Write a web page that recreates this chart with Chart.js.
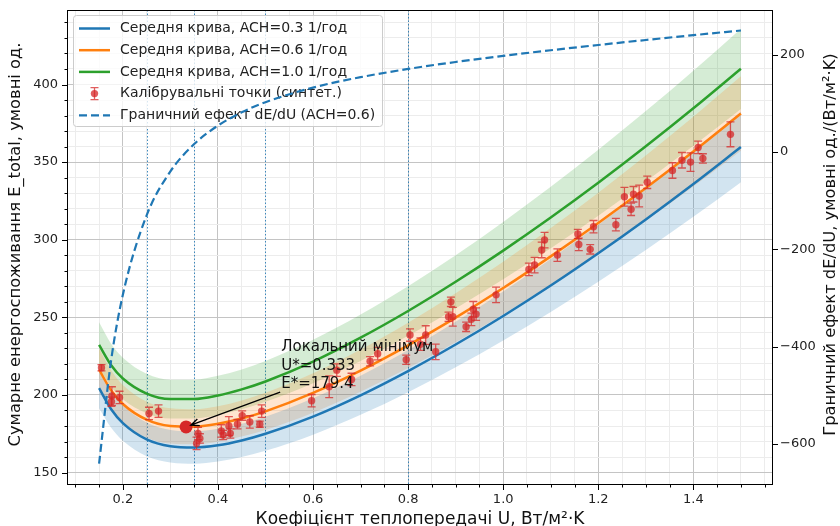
<!DOCTYPE html>
<html>
<head>
<meta charset="utf-8">
<script src="https://cdn.jsdelivr.net/npm/chart.js@4.4.0/dist/chart.umd.min.js"></script>
<style>
 html, body { margin: 0; padding: 0; background: #fff; }
 #wrap { width: 840px; height: 526px; }
</style>
</head>
<body>
<div id="wrap"><canvas id="chart" width="840" height="526"></canvas></div>
<script>
// U grid of the mean curves
const uGrid = [0.15, 0.175, 0.2, 0.25, 0.3, 0.35, 0.4, 0.45, 0.5, 0.6, 0.7, 0.8, 0.9, 1.0, 1.1, 1.2, 1.3, 1.4, 1.5];

// mean curves, ACH = 0.3 / 0.6 / 1.0
const meanAch03 = [204.4, 191.0, 181.9, 171.4, 167.0, 166.2, 167.6, 170.7, 175.0, 186.1, 199.8, 215.4, 232.5, 250.9, 270.5, 291.3, 313.1, 335.9, 359.7];
const meanAch06 = [216.3, 203.1, 194.2, 184.1, 180.0, 179.5, 181.4, 184.8, 189.4, 201.3, 215.7, 232.0, 249.8, 268.9, 289.3, 310.8, 333.3, 356.8, 381.3];
const meanAch10 = [232.2, 219.3, 210.6, 200.9, 197.4, 197.4, 199.7, 203.6, 208.7, 221.5, 236.9, 254.1, 272.9, 293.0, 314.3, 336.7, 360.2, 384.7, 410.2];

// uncertainty bands
const lowAch03 = [191.5, 179.0, 170.5, 160.6, 156.5, 155.7, 157.1, 160.0, 164.0, 174.4, 187.2, 201.8, 217.8, 235.1, 253.5, 273.0, 293.4, 314.8, 337.1];
const highAch03 = [217.2, 203.1, 193.4, 182.2, 177.5, 176.6, 178.2, 181.5, 186.0, 197.9, 212.4, 228.9, 247.1, 266.7, 287.6, 309.7, 332.8, 357.1, 382.4];
const lowAch06 = [202.7, 190.3, 182.0, 172.5, 168.7, 168.2, 169.9, 173.2, 177.5, 188.6, 202.1, 217.3, 234.0, 252.0, 271.1, 291.2, 312.3, 334.3, 357.3];
const highAch06 = [229.9, 215.9, 206.4, 195.7, 191.4, 190.8, 192.8, 196.5, 201.4, 214.0, 229.3, 246.6, 265.5, 285.9, 307.5, 330.3, 354.3, 379.3, 405.4];
const lowAch10 = [217.6, 205.5, 197.3, 188.3, 184.9, 184.9, 187.1, 190.8, 195.6, 207.6, 221.9, 238.1, 255.7, 274.5, 294.5, 315.5, 337.5, 360.5, 384.3];
const highAch10 = [246.8, 233.1, 223.9, 213.6, 209.8, 209.8, 212.3, 216.4, 221.9, 235.5, 251.8, 270.1, 290.0, 311.4, 334.1, 357.9, 382.9, 408.9, 436.0];

// marginal effect dE/dU for ACH = 0.6 (right axis)
const marginalAch06 = [-640.1, -430.1, -293.0, -130.1, -39.7, 16.5, 54.5, 81.8, 102.6, 132.6, 154.0, 170.9, 185.2, 197.8, 209.3, 220.1, 230.4, 240.3, 249.9];

// calibration points (synthetic)
const calU = [0.155, 0.177, 0.176, 0.193, 0.255, 0.275, 0.355, 0.358, 0.362, 0.407, 0.411, 0.423, 0.426, 0.441, 0.451, 0.467, 0.488, 0.492,
  0.597, 0.634, 0.650, 0.681, 0.720, 0.736, 0.796, 0.804, 0.826, 0.837, 0.858, 0.885, 0.890, 0.894, 0.922, 0.933, 0.937, 0.943, 0.985,
  1.054, 1.066, 1.081, 1.087, 1.114, 1.157, 1.159, 1.183, 1.190, 1.237, 1.255, 1.269, 1.274, 1.286, 1.303, 1.356, 1.376, 1.394, 1.410, 1.420, 1.478];
const calE = [217.5, 199.3, 195.6, 198.4, 188.1, 189.6, 168.8, 175.2, 172.0, 176.8, 174.2, 180.0, 175.2, 181.2, 186.7, 182.6, 181.2, 189.6,
  196.3, 205.3, 216.0, 210.0, 221.7, 226.6, 222.7, 238.6, 232.7, 238.6, 227.8, 250.4, 260.0, 250.4, 243.9, 248.7, 255.2, 252.1, 264.5,
  280.9, 283.7, 293.4, 299.8, 290.1, 303.7, 297.0, 293.8, 308.4, 309.7, 327.7, 319.6, 329.3, 328.2, 337.0, 344.6, 351.2, 350.0, 359.5, 352.4, 367.9];
const calErr = [2, 6, 3, 4, 4, 4, 4, 4, 3, 4, 3, 6, 3, 3, 3, 4, 2, 4,
  4, 7, 4, 4, 3, 4, 3, 4, 4, 6, 5, 3, 3, 6, 3, 4, 5, 4, 5,
  4, 5, 5, 5, 4, 3, 4, 3, 4, 4, 6, 4, 5, 7, 4, 5, 5, 6, 4, 3, 8];

// local minimum
const minU = 0.333;
const minE = 179.4;

// reference U lines
const refU = [0.25, 0.35, 0.5, 0.8];

// tick labels
const xTicks = [0.2, 0.4, 0.6, 0.8, 1.0, 1.2, 1.4];
const yTicks = [150, 200, 250, 300, 350, 400];
const y2Ticks = [-600, -400, -200, 0, 200];

const FONT = '"DejaVu Sans", sans-serif';
const BLUE = '#1f77b4', ORANGE = '#ff7f0e', GREEN = '#2ca02c', RED = '#d62728';

const xMinor = [];
for (let k = 2; k <= 31; k++) xMinor.push(k * 5 / 100);
const yMinor = [];
for (let v = 150; v <= 440; v += 10) yMinor.push(v);

const pts = arr => uGrid.map((u, i) => ({x: u, y: arr[i]}));
const isMultiple = (v, step) => Math.abs(v / step - Math.round(v / step)) < 1e-6;

function band(lo, hi, color) {
  return [
    {type: 'line', data: pts(lo), borderColor: 'transparent', borderWidth: 0, pointRadius: 0, fill: false, order: 10, cubicInterpolationMode: 'monotone'},
    {type: 'line', data: pts(hi), borderColor: 'transparent', borderWidth: 0, pointRadius: 0, fill: '-1', backgroundColor: color, order: 10, cubicInterpolationMode: 'monotone'}
  ];
}
function curve(arr, color, label) {
  return {type: 'line', label: label, data: pts(arr), borderColor: color, borderWidth: 2.5, pointRadius: 0, fill: false, order: 5, cubicInterpolationMode: 'monotone'};
}

const datasets = [
  ...band(lowAch03, highAch03, 'rgba(31,119,180,0.2)'),
  ...band(lowAch06, highAch06, 'rgba(255,127,14,0.2)'),
  ...band(lowAch10, highAch10, 'rgba(44,160,44,0.2)'),
  curve(meanAch03, BLUE, 'Середня крива, ACH=0.3 1/год'),
  curve(meanAch06, ORANGE, 'Середня крива, ACH=0.6 1/год'),
  curve(meanAch10, GREEN, 'Середня крива, ACH=1.0 1/год'),
  {type: 'scatter', label: 'Калібрувальні точки (синтет.)', data: calU.map((u, i) => ({x: u, y: calE[i]})),
   backgroundColor: 'rgba(214,39,40,0.75)', borderColor: 'rgba(214,39,40,0.75)', pointRadius: 3.7, borderWidth: 0, order: 3},
  {type: 'scatter', data: [{x: minU, y: minE}], backgroundColor: RED, borderColor: RED, pointRadius: 6.5, borderWidth: 0, order: 2},
  {type: 'line', label: 'Граничний ефект dE/dU (ACH=0.6)', data: pts(marginalAch06), yAxisID: 'y2', borderColor: BLUE,
   borderWidth: 2.2, borderDash: [8, 4], pointRadius: 0, fill: false, order: 0, cubicInterpolationMode: 'monotone'}
];
const CAL = 9, DERIV = 11;

function drawLegend(ctx) {
  const x0 = 73.5, y0 = 15.5, w = 309, h = 111;
  ctx.save();
  ctx.fillStyle = 'rgba(255,255,255,0.8)';
  ctx.strokeStyle = '#cccccc';
  ctx.lineWidth = 1;
  ctx.beginPath();
  ctx.roundRect(x0, y0, w, h, 3);
  ctx.fill();
  ctx.stroke();
  const rows = [6, 7, 8, CAL, DERIV];
  ctx.font = '14px ' + FONT;
  ctx.textBaseline = 'middle';
  rows.forEach((di, r) => {
    const d = datasets[di];
    const cy = 28.5 + r * 21.7;
    ctx.save();
    if (di === CAL) {
      ctx.strokeStyle = 'rgba(214,39,40,0.75)';
      ctx.fillStyle = 'rgba(214,39,40,0.75)';
      ctx.lineWidth = 1.3;
      ctx.beginPath();
      ctx.moveTo(94.5, cy - 6); ctx.lineTo(94.5, cy + 6);
      ctx.moveTo(90.5, cy - 6); ctx.lineTo(98.5, cy - 6);
      ctx.moveTo(90.5, cy + 6); ctx.lineTo(98.5, cy + 6);
      ctx.stroke();
      ctx.beginPath(); ctx.arc(94.5, cy, 3.7, 0, Math.PI * 2); ctx.fill();
    } else {
      ctx.strokeStyle = d.borderColor;
      ctx.lineWidth = d.borderWidth;
      if (d.borderDash) ctx.setLineDash(d.borderDash);
      ctx.beginPath(); ctx.moveTo(79, cy); ctx.lineTo(110, cy); ctx.stroke();
    }
    ctx.restore();
    ctx.fillStyle = '#222';
    ctx.fillText(d.label, 120, cy);
  });
  ctx.restore();
}

function drawAnnotation(chart) {
  const {ctx, scales: {x, y}} = chart;
  const tx = x.getPixelForValue(0.533), ty = y.getPixelForValue(204.4);
  const px = x.getPixelForValue(minU), py = y.getPixelForValue(minE);
  ctx.save();
  ctx.fillStyle = '#111';
  ctx.font = '15px ' + FONT;
  ctx.textBaseline = 'alphabetic';
  ['Локальний мінімум', 'U*=0.333', 'E*=179.4'].forEach((t, i) => ctx.fillText(t, tx, ty - (2 - i) * 18.5));
  const sx = tx - 1, sy = ty + 4;
  const ang = Math.atan2(py - sy, px - sx);
  const ex = px - Math.cos(ang) * 5, ey = py - Math.sin(ang) * 5;
  ctx.strokeStyle = '#000';
  ctx.lineWidth = 1.3;
  ctx.beginPath();
  ctx.moveTo(sx, sy); ctx.lineTo(ex, ey);
  ctx.moveTo(ex - 9 * Math.cos(ang - 0.4), ey - 9 * Math.sin(ang - 0.4));
  ctx.lineTo(ex, ey);
  ctx.lineTo(ex - 9 * Math.cos(ang + 0.4), ey - 9 * Math.sin(ang + 0.4));
  ctx.stroke();
  ctx.restore();
}

const extras = {
  id: 'extras',
  beforeDatasetsDraw(chart) {
    const {ctx, chartArea: a, scales: {x}} = chart;
    ctx.save();
    ctx.strokeStyle = 'rgba(31,119,180,0.85)';
    ctx.lineWidth = 1;
    ctx.setLineDash([1.5, 2]);
    refU.forEach(u => {
      const px = Math.round(x.getPixelForValue(u)) + 0.5;
      ctx.beginPath(); ctx.moveTo(px, a.top); ctx.lineTo(px, a.bottom); ctx.stroke();
    });
    ctx.restore();
  },
  beforeDatasetDraw(chart, args) {
    const {ctx, scales: {y}} = chart;
    if (args.index === CAL) {
      const meta = chart.getDatasetMeta(CAL);
      ctx.save();
      ctx.strokeStyle = 'rgba(214,39,40,0.75)';
      ctx.lineWidth = 1.3;
      meta.data.forEach((p, i) => {
        const top = y.getPixelForValue(calE[i] + calErr[i]);
        const bot = y.getPixelForValue(calE[i] - calErr[i]);
        ctx.beginPath();
        ctx.moveTo(p.x, top); ctx.lineTo(p.x, bot);
        ctx.moveTo(p.x - 4, top); ctx.lineTo(p.x + 4, top);
        ctx.moveTo(p.x - 4, bot); ctx.lineTo(p.x + 4, bot);
        ctx.stroke();
      });
      ctx.restore();
    }
    if (args.index === DERIV) {
      drawAnnotation(chart);
      drawLegend(ctx);
    }
  },
  afterDraw(chart) {
    const {ctx, chartArea: a, scales: {x, y, y2}} = chart;
    ctx.save();
    ctx.strokeStyle = '#000';
    ctx.lineWidth = 1;
    ctx.strokeRect(a.left + 0.5, a.top + 0.5, a.width - 1, a.height - 1);
    ctx.beginPath();
    xMinor.forEach(v => {
      const px = Math.round(x.getPixelForValue(v)) + 0.5;
      const len = isMultiple(v, 0.2) ? 5 : 2.5;
      ctx.moveTo(px, a.bottom); ctx.lineTo(px, a.bottom + len);
    });
    yMinor.forEach(v => {
      const py = Math.round(y.getPixelForValue(v)) + 0.5;
      const len = isMultiple(v, 50) ? 5 : 2.5;
      ctx.moveTo(a.left, py); ctx.lineTo(a.left - len, py);
    });
    y2Ticks.forEach(v => {
      const py = Math.round(y2.getPixelForValue(v)) + 0.5;
      ctx.moveTo(a.right, py); ctx.lineTo(a.right + 5, py);
    });
    ctx.stroke();

    ctx.fillStyle = '#111';
    ctx.font = '16.3px ' + FONT;
    ctx.textAlign = 'center';
    ctx.textBaseline = 'middle';
    const cy = (a.top + a.bottom) / 2;
    ctx.save();
    ctx.translate(16, cy - 3); ctx.rotate(-Math.PI / 2);
    ctx.fillText('Сумарне енергоспоживання E_total, умовні од.', 0, 0);
    ctx.restore();
    ctx.save();
    ctx.translate(831, cy - 3); ctx.rotate(-Math.PI / 2);
    ctx.fillText('Граничний ефект dE/dU, умовні од./(Вт/м²·K)', 0, 0);
    ctx.restore();
    ctx.font = '17px ' + FONT;
    ctx.textBaseline = 'alphabetic';
    ctx.fillText('Коефіцієнт теплопередачі U, Вт/м²·K', (a.left + a.right) / 2, 524);
    ctx.restore();
  }
};

const tickFont = {family: FONT, size: 13};
const noPad = s => { s.paddingTop = 0; s.paddingBottom = 0; s.paddingLeft = 0; s.paddingRight = 0; };

new Chart(document.getElementById('chart').getContext('2d'), {
  type: 'line',
  data: {datasets: datasets},
  options: {
    responsive: false,
    animation: false,
    devicePixelRatio: 1,
    layout: {padding: {top: 10, left: 0, right: 0, bottom: 0}},
    plugins: {legend: {display: false}, tooltip: {enabled: false}},
    scales: {
      x: {
        type: 'linear', min: 0.0825, max: 1.5675,
        afterBuildTicks: s => { s.ticks = xMinor.map(v => ({value: v})); },
        afterFit: s => { s.height = 41; noPad(s); },
        border: {display: false},
        grid: {drawTicks: false, lineWidth: 1, color: c => isMultiple(c.tick.value, 0.2) ? '#c4c4c4' : '#ececec'},
        ticks: {autoSkip: false, maxRotation: 0, padding: 7, font: tickFont, color: '#222',
                callback: v => xTicks.some(t => Math.abs(t - v) < 1e-6) ? v.toFixed(1) : ''}
      },
      y: {
        type: 'linear', position: 'left', min: 142, max: 448,
        afterBuildTicks: s => { s.ticks = yMinor.map(v => ({value: v})); },
        afterFit: s => { s.width = 67; noPad(s); },
        border: {display: false},
        grid: {drawTicks: false, lineWidth: 1, color: c => isMultiple(c.tick.value, 50) ? '#c4c4c4' : '#ececec'},
        ticks: {autoSkip: false, padding: 9, font: tickFont, color: '#222',
                callback: v => yTicks.includes(v) ? String(v) : ''}
      },
      y2: {
        type: 'linear', position: 'right', min: -684, max: 292,
        afterBuildTicks: s => { s.ticks = y2Ticks.map(v => ({value: v})); },
        afterFit: s => { s.width = 67; noPad(s); },
        border: {display: false},
        grid: {display: false, drawTicks: false},
        ticks: {autoSkip: false, padding: 7, font: tickFont, color: '#222',
                callback: v => (v < 0 ? '\u2212' + Math.abs(v) : String(v))}
      }
    }
  },
  plugins: [extras]
});
</script>
</body>
</html>
